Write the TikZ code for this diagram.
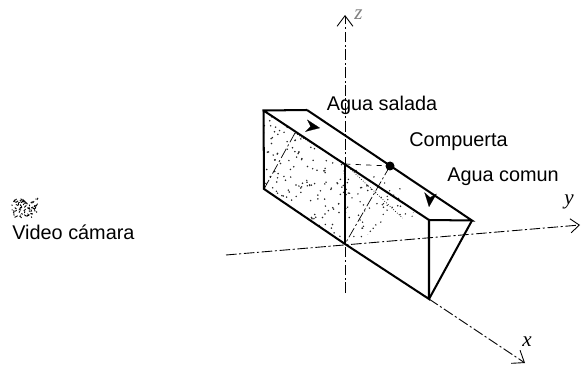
\documentclass[tikz,border=0pt]{standalone}
\usepackage{fontspec}
\setmainfont{Liberation Sans}
\newfontfamily\axfont{Liberation Serif}
\usetikzlibrary{arrows.meta}
\tikzset{
    edge/.style={line width=1.15pt},
    axis/.style={line width=0.5pt, dash pattern=on 6pt off 1.5pt on 1.2pt off 1.5pt},
    flow/.style={-{Stealth[length=8pt,width=7pt,inset=2.5pt]}, line width=0.1pt},
    lbl/.style={font=\fontsize{11.3}{13}\selectfont, inner sep=0pt},
    axlbl/.style={font=\fontsize{12}{14}\selectfont\axfont\itshape, inner sep=0pt}
}
\begin{document}
\begin{tikzpicture}
    \useasboundingbox (0,0) rectangle (11.64,7.36);
    % corners of the channel
    \coordinate (A) at (5.27,5.15);
    \coordinate (B) at (6.14,5.16);
    \coordinate (C) at (9.44,2.95);
    \coordinate (D) at (8.58,2.96);
    \coordinate (E) at (8.58,1.38);
    \coordinate (F) at (5.28,3.58);
    \coordinate (O) at (6.90,2.48);
    \coordinate (M) at (6.90,4.08);
    \coordinate (G) at (7.80,4.04);
    % axis ends
    \coordinate (zlow) at (6.90,1.50);
    \coordinate (ztop) at (6.90,7.06);
    \coordinate (yleft) at (4.52,2.26);
    \coordinate (yright) at (11.60,2.86);
    \coordinate (xend) at (10.50,0.10);
    % stippled part
    \begin{scope}
        \clip (A) -- (M) -- (O) -- (F) -- cycle;
        \pgfmathsetseed{7}
        \foreach \i in {1,...,230} {
            \fill[black!85] (5.27+1.7*rnd,2.4+2.8*rnd) circle (0.017);
        }
    \end{scope}
    \begin{scope}
        \clip (M) -- (G) -- (8.30,3.05) -- (O) -- cycle;
        \pgfmathsetseed{11}
        \foreach \i in {1,...,90} {
            \fill[black!85] (6.9+1.5*rnd,2.4+1.7*rnd) circle (0.016);
        }
    \end{scope}
    % axes
    \draw[axis, -{Straight Barb[length=6pt,width=9pt]}] (zlow) -- (ztop);
    \draw[axis, -{Straight Barb[length=5pt,width=8pt]}] (yleft) -- (yright);
    \draw[axis, -{Straight Barb[length=6pt,width=9pt]}] (E) -- (xend);
    \node[axlbl] (zlabel) at (7.17,7.06) {\textcolor{black!50}{z}};
    \node[axlbl] (ylabel) at (11.38,3.32) {y};
    \node[axlbl] (xlabel) at (10.54,0.52) {x};
    % channel
    \draw[edge] (B) -- (A) -- (F) -- (O) -- (E) -- (D) -- (A);
    \draw[edge] (B) -- (C) -- (D);
    \draw[edge] (C) -- (E);
    \draw[line width=0.7pt] (M) -- (O);
    % gate
    \coordinate (P) at (5.90,4.70);
    \coordinate (R) at (8.05,3.00);
    \draw[axis, line width=0.4pt] (G) -- (O);
    \draw[axis, line width=0.4pt] (P) -- (F);
    \draw[dashed, line width=0.4pt] (M) -- (G);
    \draw[densely dotted, line width=0.4pt] (P) -- (M);
    \draw[densely dotted, line width=0.4pt] (M) -- (R);
    % flow marks
    \coordinate (a1) at (6.22,4.83);
    \coordinate (a2) at (6.40,4.80);
    \coordinate (b1) at (8.60,3.40);
    \coordinate (b2) at (8.58,3.22);
    \draw[flow] (a1) -- (a2);
    \draw[flow] (b1) -- (b2);
    \fill (G) circle (0.09);
    % labels
    \node[lbl] (salada) at (7.64,5.26) {Agua salada};
    \node[lbl] (compuerta) at (9.17,4.52) {Compuerta};
    \node[lbl] (comun) at (10.06,3.82) {Agua comun};
    \node[lbl, anchor=west] (camara) at (0.24,2.72) {Video cámara};
    % scribble above the label
    \begin{scope}[shift={(0.24,3.02)}, line width=0.5pt]
        \pgfmathsetseed{3}
        \foreach \i in {1,...,70} {
            \draw (0.25+0.25*rand,0.19+0.18*rand) -- ++(0.05*rand,0.05*rand);
        }
    \end{scope}
\end{tikzpicture}
\end{document}
